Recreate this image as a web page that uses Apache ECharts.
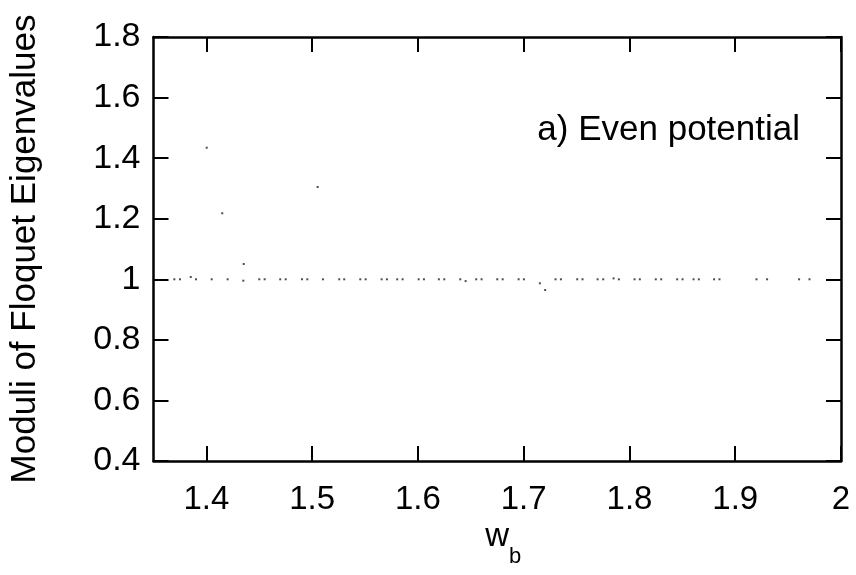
<!DOCTYPE html>
<html>
<head>
<meta charset="utf-8">
<script src="https://cdn.jsdelivr.net/npm/echarts@6/dist/echarts.min.js"></script>
<style>html,body{margin:0;padding:0;background:#fff}#c{width:856px;height:575px}</style>
</head>
<body>
<div id="c"></div>
<script>
// w_b values (x) and moduli of Floquet eigenvalues (y)
const wbValues = [
  1.3697, 1.3750, 1.3852, 1.3902, 1.4050, 1.4201, 1.4349, 1.4500, 1.4551, 1.4698, 1.4750,
  1.4904, 1.4954, 1.5102, 1.5256, 1.5303, 1.5455, 1.5506, 1.5657, 1.5707, 1.5804, 1.5855,
  1.6007, 1.6057, 1.6198, 1.6249, 1.6400, 1.6451, 1.6551, 1.6602, 1.6750, 1.6801, 1.6952,
  1.7002, 1.7153, 1.7203, 1.7301, 1.7352, 1.7506, 1.7556, 1.7699, 1.7752, 1.7850, 1.7900,
  1.8048, 1.8098, 1.8249, 1.8300, 1.8451, 1.8502, 1.8606, 1.8656, 1.8800, 1.8851, 1.9201,
  1.9301, 1.9604, 1.9702,
  1.4003, 1.5052, 1.4150, 1.4353
];
const moduliValues = [
  1.000, 1.000, 1.0075, 1.000, 1.000, 1.000, 0.9953, 1.000, 1.000, 1.000, 1.000,
  1.000, 1.000, 1.000, 1.000, 1.000, 1.000, 1.000, 1.000, 1.000, 1.000, 1.000,
  1.000, 1.000, 1.000, 1.000, 1.000, 0.994, 1.000, 1.000, 1.000, 1.000, 1.000,
  1.000, 0.9868, 0.9646, 1.000, 1.000, 1.000, 1.000, 1.000, 1.000, 1.003, 1.000,
  1.000, 1.000, 1.000, 1.000, 1.000, 1.000, 1.000, 1.000, 1.000, 1.000, 1.000,
  1.000, 1.000, 1.000,
  1.4345, 1.3047, 1.218, 1.0505
];
const xTicks = [1.4, 1.5, 1.6, 1.7, 1.8, 1.9, 2.0];
const yTicks = [0.4, 0.6, 0.8, 1.0, 1.2, 1.4, 1.6, 1.8];
const xLabel = 'w';
const xLabelSub = 'b';
const yLabel = 'Moduli of Floquet Eigenvalues';
const annotation = 'a) Even potential';

const FONT = 'Liberation Sans, Arial, Helvetica, sans-serif';
const FS = 33;
const points = wbValues.map((x, i) => [x, moduliValues[i]]);

const chart = echarts.init(document.getElementById('c'), null, {renderer: 'canvas'});
const lineStyle = {color: '#000', width: 2.5};
const tickStyle = {color: '#000', width: 2};
chart.setOption({
  animation: false,
  backgroundColor: '#fff',
  grid: {left: 153.5, right: 15, top: 37, bottom: 114, containLabel: false, outerBoundsMode: 'none'},
  xAxis: [{
    type: 'value', min: 1.35, max: 2.0, position: 'bottom',
    axisLine: {show: true, lineStyle: lineStyle},
    axisTick: {show: true, inside: true, length: 15, lineStyle: tickStyle, customValues: xTicks},
    axisLabel: {show: true, customValues: xTicks, fontSize: FS, fontFamily: FONT, color: '#000', margin: 22,
      formatter: v => String(parseFloat(v.toFixed(2)))},
    splitLine: {show: false},
    name: '{w|' + xLabel + '}{b|' + xLabelSub + '}', nameLocation: 'middle', nameGap: 37,
    nameTextStyle: {padding: [0, 0, 0, 12], rich: {
      w: {fontSize: FS, fontFamily: FONT, color: '#000'},
      b: {fontSize: 22, fontFamily: FONT, color: '#000', verticalAlign: 'bottom', padding: [0,0,-14,0]}
    }}
  }, {
    type: 'value', min: 1.35, max: 2.0, position: 'top',
    axisLine: {show: true, lineStyle: lineStyle},
    axisTick: {show: true, inside: true, length: 15, lineStyle: tickStyle, customValues: xTicks},
    axisLabel: {show: false}, splitLine: {show: false}
  }],
  yAxis: [{
    type: 'value', min: 0.4, max: 1.8, interval: 0.2, position: 'left',
    axisLine: {show: true, lineStyle: lineStyle},
    axisTick: {show: true, inside: true, length: 15, lineStyle: tickStyle},
    axisLabel: {show: true, fontSize: 34, fontFamily: FONT, color: '#000', margin: 13,
      formatter: v => String(parseFloat(v.toFixed(2)))},
    splitLine: {show: false},
    name: yLabel, nameLocation: 'middle', nameGap: 111,
    nameTextStyle: {fontSize: 35, fontFamily: FONT, color: '#000'}
  }, {
    type: 'value', min: 0.4, max: 1.8, interval: 0.2, position: 'right',
    axisLine: {show: true, lineStyle: lineStyle},
    axisTick: {show: true, inside: true, length: 15, lineStyle: tickStyle},
    axisLabel: {show: false}, splitLine: {show: false}
  }],
  graphic: [{
    type: 'text', right: 56, top: 113,
    style: {text: annotation, font: '35px ' + FONT, fill: '#000'}
  }],
  series: [{
    type: 'scatter', xAxisIndex: 0, yAxisIndex: 0,
    data: points, symbol: 'rect', symbolSize: 2,
    itemStyle: {color: '#222'}
  }]
});
</script>
</body>
</html>
